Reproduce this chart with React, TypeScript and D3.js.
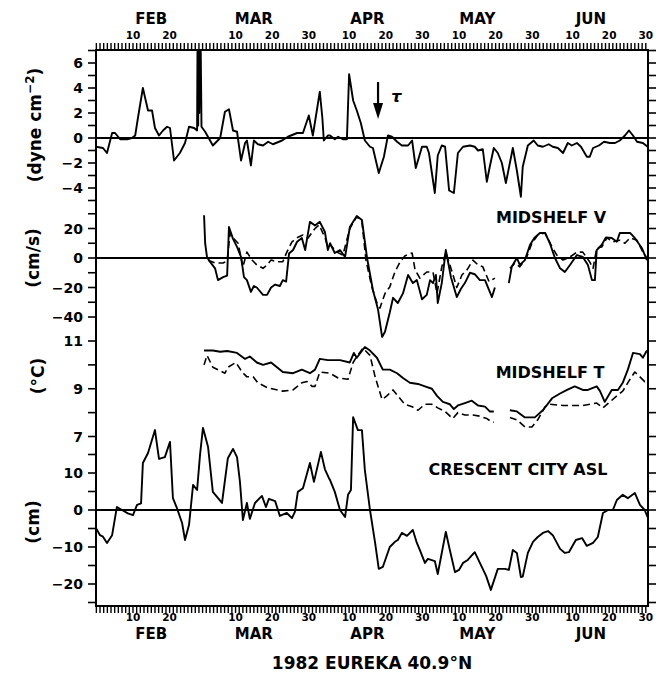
import React from 'react';
import * as d3 from 'd3';

// Time axis: days counted from 1 Feb 1982 (day 0).
const MONTHS = ['FEB', 'MAR', 'APR', 'MAY', 'JUN'];
const MONTH_START = [0, 28, 59, 89, 120];
const MONTH_LEN = [28, 31, 30, 31, 30];
const DAY_LABELS = [10, 20, 30];

// Alongshore wind stress (dyne cm^-2)
const tau: [number, number][] = [
  [-1.1, -0.7], [0.8, -0.8], [1.9, -1.2], [3.3, 0.4], [4.1, 0.4], [5.5, -0.1], [7.4, -0.1], [8.7, 0], [9.6, 0.2],
  [10.4, 1.7], [11.7, 4.0], [13.1, 2.2], [14.2, 2.2], [15.0, 0.8], [16.1, 0.2], [17.2, 0.6], [18.3, 0.9], [19.1, 0.8],
  [20.2, -1.8], [21.8, -1.2], [23.2, -0.4], [24.3, 0.9], [25.7, 0.8], [26.5, 0.6], [26.6, 6.9], [26.8, 1.0], [26.9, 6.9],
  [27.1, 2.0], [27.2, 6.9], [27.4, 3.0], [27.5, 6.9], [27.7, 0.9], [28.7, 0.5], [30.8, -0.6], [32.8, 0], [34.1, 2.1],
  [35.2, 2.3], [36.3, 0.6], [37.4, 0.5], [38.5, -1.8], [39.6, -0.4], [40.1, -0.2], [41.2, -2.2], [42.0, -0.2],
  [43.1, -0.5], [44.5, -0.6], [45.9, -0.3], [47.2, -0.5], [49.7, -0.2], [51.3, 0.1], [53.8, 0.4], [55.4, 0.4],
  [57.0, 1.8], [58.1, 0.2], [60.0, 3.7], [60.7, 1.6], [61.1, -0.2], [62.2, 0.2], [62.8, 0.2], [64.1, -0.1], [65.0, 0.1],
  [66.3, -0.1], [67.4, -0.1], [68.0, 5.1], [69.1, 3.0], [70.1, 2.2], [71.2, 1.2], [72.3, -0.2], [73.7, -0.7], [74.5, -0.8],
  [76.1, -2.8], [77.5, -1.5], [78.6, 0.2], [79.7, 0.1], [81.1, -0.3], [82.4, -0.6], [84.1, -0.6], [85.2, -0.2],
  [86.2, -2.4], [87.9, -0.7], [89.2, -0.7], [89.8, -1.2], [91.4, -4.4], [92.2, -1.4], [93.3, -0.6], [94.2, -0.7],
  [95.3, -4.2], [96.6, -4.4], [97.7, -1.2], [99.1, -0.7], [101.0, -0.6], [102.3, -0.7], [103.2, -1.0], [104.5, -0.9],
  [105.6, -3.5], [106.4, -2.3], [107.5, -0.8], [108.6, -1.2], [109.7, -2.0], [110.8, -3.6], [112.7, -0.8], [113.8, -2.6],
  [114.9, -4.7], [115.4, -2.3], [116.8, -0.6], [118.4, -0.2], [119.5, -0.6], [120.9, -0.7], [122.5, -0.5], [123.6, -0.7],
  [125.0, -0.8], [126.4, -1.2], [127.7, -0.4], [128.8, -0.6], [130.2, -0.4], [131.3, -0.7], [132.9, -1.5], [133.7, -1.5],
  [134.6, -0.8], [136.2, -0.6], [137.6, -0.3], [139.2, -0.4], [140.6, -0.4], [141.9, -0.2], [143.3, 0.2], [144.4, 0.6],
  [145.5, 0.2], [146.6, -0.3], [148.2, -0.4], [149.5, -0.7],
];

// Midshelf alongshore velocity (cm/s): upper (solid) and lower (dashed) meters, two deployments
const vUpperA: [number, number][] = [
  [28.4, 29], [28.7, 10], [29.2, 0.7], [30.0, -2.5], [31.4, -7], [32.2, -15], [33.6, -13], [34.7, -12], [35.2, 21],
  [36.3, 13], [37.4, 7.5], [38.5, 0.7], [39.3, -13], [40.1, -15], [41.2, -23], [42.0, -19], [42.8, -20], [44.5, -25],
  [45.6, -25], [46.7, -20], [47.8, -18], [49.1, -19], [49.9, -15], [50.8, -16], [51.6, 3], [52.7, 5.4], [53.8, 11],
  [55.1, 13.5], [56.0, 5.4], [57.3, 24.5], [58.7, 22], [60.0, 24.5], [61.4, 17.6], [62.2, 5.4], [62.8, 10], [64.1, 3.4],
  [65.5, 5.4], [66.9, 0.7], [68.2, 21], [70.1, 28.5], [71.5, 25.8], [72.9, 0], [74.5, -21.7], [75.9, -35], [77.0, -53.5],
  [77.8, -50], [79.1, -37], [80.0, -27], [81.3, -30.5], [82.7, -24], [84.1, -11.5], [85.4, -17], [86.5, -15], [87.9, -28],
  [89.2, -25], [90.1, -15], [90.9, -17], [91.7, -11.5], [92.2, -30.5], [93.3, -17], [94.4, 5.4], [95.8, -13],
  [97.4, -26.5], [98.5, -21], [99.6, -17], [101.0, -10], [102.3, -11], [103.7, -15], [105.1, -15], [107.0, -26.5],
  [107.8, -20],
];
const vLowerA: [number, number][] = [
  [29.5, -1.5], [31.4, -3.4], [33.6, -3.4], [34.7, -2], [35.5, 17], [36.3, 13.6], [37.7, 10], [39.0, -6], [40.1, 4],
  [41.5, -1.4], [42.8, -4.7], [44.5, -7], [45.6, -4.7], [46.7, -1.4], [48.3, -2.5], [49.9, -2.5], [51.0, 4], [52.4, 11],
  [54.0, 14], [55.4, 15.6], [56.8, 13.6], [58.7, 20], [59.8, 22.4], [61.4, 14], [62.2, 7.5], [62.8, 9], [64.7, 4],
  [66.3, 2], [68.2, 20], [70.1, 28], [71.5, 24.5], [72.6, -1.4], [74.2, -19.6], [75.6, -30.5], [76.4, -34], [77.8, -24],
  [79.1, -19.6], [80.5, -9.5], [81.9, -2.7], [83.2, 1.4], [85.2, 3.4], [86.0, -8], [87.3, -13.6], [89.2, -9.5],
  [90.9, -9.5], [92.0, -24], [93.3, -6], [94.4, 4], [95.8, -7], [97.4, -20], [98.8, -11.5], [100.2, -8], [101.8, -1.4],
  [103.2, -4.7], [104.5, -6], [106.2, -16], [107.8, -13.6],
];
const vUpperB: [number, number][] = [
  [111.6, -17], [112.4, -6], [113.8, 0], [114.6, -4.7], [116.0, -1.4], [117.4, 9], [118.7, 14], [120.1, 17], [121.5, 17],
  [122.8, 10], [124.2, 0], [125.6, -7], [126.9, -9.5], [128.3, -4.7], [130.2, 2], [131.8, 0.7], [133.2, -4.7],
  [134.3, -15], [135.1, -15], [135.6, 5.4], [137.0, 9], [138.1, 14], [139.7, 13.6], [141.1, 11], [141.9, 17], [143.3, 17],
  [144.7, 17], [146.0, 13.6], [147.9, 6.8], [149.3, -1.4],
];
const vLowerB: [number, number][] = [
  [111.9, -7], [113.3, -3.4], [114.6, -6], [116.5, 0.7], [117.9, 10], [119.5, 15.6], [121.5, 17], [123.4, 7.5],
  [124.7, 2], [126.4, -1.4], [128.3, 0.7], [130.2, 4], [131.8, 4], [133.7, -2.7], [134.6, -7], [135.6, 6.8], [137.0, 7.5],
  [138.4, 13.6], [140.0, 11], [141.9, 12], [143.3, 10], [144.7, 13.6], [146.6, 12], [148.2, 4], [149.3, 0],
];

// Midshelf temperature (°C)
const tUpperA: [number, number][] = [
  [28.4, 10.6], [30.8, 10.6], [32.8, 10.55], [34.7, 10.58], [37.4, 10.5], [39.6, 10.25], [40.9, 10.35], [42.8, 10.1],
  [44.5, 10.0], [46.7, 10.1], [48.3, 9.9], [49.9, 9.7], [52.7, 9.65], [55.1, 9.8], [57.3, 9.65], [58.7, 9.8],
  [60.0, 10.25], [62.2, 10.2], [65.5, 10.2], [68.2, 10.1], [69.3, 10.5], [70.1, 10.3], [72.3, 10.75], [73.7, 10.6],
  [75.6, 10.3], [77.2, 9.8], [79.1, 9.8], [81.1, 9.65], [82.7, 9.45], [84.6, 9.25], [86.8, 9.2], [88.7, 9.1], [90.6, 9.0],
  [92.0, 8.7], [93.6, 8.45], [95.5, 8.35], [96.6, 8.15], [97.7, 8.3], [99.6, 8.4], [101.5, 8.5], [103.2, 8.3],
  [105.1, 8.25], [106.4, 8.05], [107.5, 8.05],
];
const tLowerA: [number, number][] = [
  [28.4, 10.0], [29.2, 10.4], [30.8, 9.9], [34.1, 9.65], [34.9, 9.9], [37.1, 10.1], [38.8, 9.7], [40.1, 9.5], [41.8, 9.5],
  [43.1, 9.25], [45.6, 9.05], [49.9, 8.9], [52.7, 8.95], [55.1, 9.25], [56.5, 9.3], [57.9, 9.1], [58.7, 9.1], [60.0, 9.7],
  [62.8, 9.65], [65.0, 9.45], [67.7, 9.4], [69.1, 10.1], [70.1, 10.35], [71.8, 10.7], [73.7, 10.4], [75.1, 9.5],
  [77.0, 8.55], [78.3, 8.7], [80.0, 8.95], [81.3, 8.7], [83.2, 8.35], [85.2, 8.25], [86.8, 8.1], [88.7, 8.35],
  [90.6, 8.35], [92.2, 8.2], [94.2, 8.05], [96.3, 7.75], [97.7, 8.0], [99.6, 7.9], [101.8, 7.9], [103.7, 7.85],
  [105.6, 7.75], [107.0, 7.6], [107.5, 7.6],
];
const tUpperB: [number, number][] = [
  [111.9, 8.1], [113.8, 8.05], [116.0, 7.8], [118.7, 7.8], [120.9, 8.1], [123.4, 8.6], [125.6, 8.8], [127.5, 8.95],
  [129.6, 9.1], [131.8, 8.95], [133.2, 8.95], [135.6, 9.1], [136.5, 8.9], [137.8, 8.45], [139.7, 8.95], [141.4, 8.95],
  [142.7, 9.25], [144.1, 9.8], [145.5, 10.5], [147.4, 10.45], [148.2, 10.3], [149.3, 10.6],
];
const tLowerB: [number, number][] = [
  [111.9, 7.8], [113.8, 7.7], [116.0, 7.4], [117.9, 7.4], [119.5, 7.7], [121.5, 8.25], [122.8, 8.35], [126.4, 8.3],
  [131.8, 8.3], [135.6, 8.4], [137.3, 8.2], [139.2, 8.45], [141.1, 8.7], [142.7, 8.9], [144.7, 9.4], [146.0, 9.7],
  [147.4, 9.5], [148.7, 9.3], [149.3, 9.4],
];

// Crescent City adjusted sea level (cm)
const asl: [number, number][] = [
  [-1.1, -4.9], [0, -6.8], [0.8, -7.2], [1.9, -8.9], [3.3, -6.8], [4.6, 0.8], [6.0, 0], [7.6, -0.9], [9.0, -1.4],
  [10.1, 1.4], [11.2, 1.8], [11.7, 12.7], [13.1, 15.4], [15.0, 21.6], [16.1, 13.8], [17.7, 14.3], [19.1, 18.4],
  [19.9, 3.2], [21.0, 0.5], [22.4, -3.5], [23.2, -8.1], [24.3, -4], [25.4, 6.8], [26.5, 5.4], [27.3, 14.9], [28.1, 22.2],
  [29.5, 17], [30.8, 4.9], [33.3, 1.9], [34.9, 14], [36.3, 16.5], [37.4, 14.3], [38.2, 7.6], [39.0, -2.7], [40.1, 1.9],
  [40.9, -2.4], [42.3, 1.9], [44.2, 3.8], [45.3, 0.8], [46.1, 3], [47.8, 2.4], [49.1, -1.6], [51.0, -0.8], [52.4, -2.2],
  [53.2, -0.5], [54.0, 4.9], [55.4, 5.9], [57.3, 12.7], [58.4, 7.6], [60.3, 15.7], [61.4, 11], [62.5, 8.6], [62.8, 8.1],
  [64.1, 4.9], [65.5, 0], [66.9, -1.9], [67.7, 4.1], [68.5, 5.4], [69.1, 25.1], [70.4, 21.6], [71.5, 21.6], [72.3, 10.8],
  [73.7, 0], [75.1, -8.9], [76.1, -15.9], [77.2, -15.4], [79.1, -10], [80.5, -8.6], [81.3, -8.1], [82.4, -6.2],
  [83.8, -7], [85.4, -5.4], [86.5, -8.9], [87.3, -10.8], [88.7, -14.3], [89.5, -13.2], [91.4, -13.8], [92.2, -17.3],
  [94.4, -5.9], [95.5, -10.8], [96.9, -16.8], [98.0, -16.2], [99.1, -14.3], [100.4, -13.5], [102.3, -11.4],
  [103.7, -14.3], [105.4, -17.8], [106.7, -21.6], [108.6, -15.9], [110.5, -15.9], [111.6, -16.2], [112.7, -10.8],
  [113.8, -11.6], [114.9, -18.1], [115.4, -18.0], [116.8, -11.6], [118.2, -8.6], [119.5, -7.3], [120.9, -6.2],
  [122.3, -5.7], [123.6, -6.8], [125.6, -10.5], [126.9, -11.6], [128.0, -11.4], [129.9, -8.1], [131.6, -7.6],
  [132.9, -9.7], [134.6, -8.9], [135.9, -7.3], [137.3, -0.8], [138.7, 0], [140.0, 0], [141.1, 2.7], [142.7, 4.1],
  [144.1, 3.2], [146.0, 4.6], [147.4, 1.4], [148.7, 0], [149.5, -1.9],
];

// Y-axis ticks and labels for each panel
const tauTicks = d3.range(-5, 8, 1);
const tauLabels = [-4, -2, 0, 2, 4, 6];
const vTicks = d3.range(-40, 31, 10);
const vLabels = [-40, -20, 0, 20];
const tTicks = [7, 8, 9, 10, 11];
const tLabels = [7, 9, 11];
const aslTicks = d3.range(-25, 16, 5);
const aslLabels = [-20, -10, 0, 10];

const FONT = '"DejaVu Sans", "Liberation Sans", Arial, sans-serif';
const LEFT = 96;
const RIGHT = 648;
const TOP = 50;
const BOTTOM = 606;

const x = d3.scaleLinear().domain([-1.1, 149.6]).range([LEFT, RIGHT]);
const yTau = d3.scaleLinear().domain([-5, 7]).range([200.5, 50.5]);
const yV = d3.scaleLinear().domain([-40, 30]).range([317, 213.75]);
const yT = d3.scaleLinear().domain([7, 11]).range([436.5, 341]);
const yAsl = d3.scaleLinear().domain([-25, 20]).range([602.5, 436]);

const fmt = d3.format('d');

type Panel = {
  scale: d3.ScaleLinear<number, number>;
  ticks: number[];
  labels: number[];
};

const panels: Panel[] = [
  { scale: yTau, ticks: tauTicks, labels: tauLabels },
  { scale: yV, ticks: vTicks, labels: vLabels },
  { scale: yT, ticks: tTicks, labels: tLabels },
  { scale: yAsl, ticks: aslTicks, labels: aslLabels },
];

function pathFor(data: [number, number][], y: d3.ScaleLinear<number, number>) {
  return d3
    .line<[number, number]>()
    .x((d) => x(d[0]))
    .y((d) => y(d[1]))(data) as string;
}

export default function App() {
  const rulerDays = d3.range(-1, 150);
  const dayTicks: number[] = [];
  MONTH_START.forEach((s, i) => {
    DAY_LABELS.forEach((d) => {
      if (d <= MONTH_LEN[i]) dayTicks.push(s + d - 1);
    });
  });
  const dayLabelOf = (d: number) => {
    let i = MONTH_START.length - 1;
    while (i > 0 && d < MONTH_START[i]) i--;
    return d - MONTH_START[i] + 1;
  };
  const monthMid = MONTH_START.map((s) => s + 14);

  const lineProps = { fill: 'none', stroke: '#000', strokeWidth: 1.9, strokeLinejoin: 'round' as const };
  const dashProps = { ...lineProps, strokeWidth: 1.6, strokeDasharray: '7 4' };

  return (
    <svg
      width={660}
      height={685}
      viewBox="0 0 660 685"
      style={{ position: 'absolute', left: 0, top: 0, background: '#fff' }}
      fontFamily={FONT}
      fontWeight="bold"
    >
      <rect width={660} height={685} fill="#fff" />

      {/* frame */}
      <rect x={LEFT} y={TOP} width={RIGHT - LEFT} height={BOTTOM - TOP} fill="none" stroke="#000" strokeWidth={2} />

      {/* daily rulers along top and bottom */}
      {rulerDays.map((d) => (
        <g key={'r' + d}>
          <line x1={x(d)} x2={x(d)} y1={TOP} y2={TOP - 7} stroke="#000" strokeWidth={1.4} />
          <line x1={x(d)} x2={x(d)} y1={BOTTOM} y2={BOTTOM + 7} stroke="#000" strokeWidth={1.4} />
        </g>
      ))}

      {/* day-of-month labels */}
      {dayTicks.map((d) => (
        <g key={'dl' + d}>
          <text x={x(d)} y={39} fontSize={10.5} textAnchor="middle">{dayLabelOf(d)}</text>
          <text x={x(d)} y={621} fontSize={10.5} textAnchor="middle">{dayLabelOf(d)}</text>
        </g>
      ))}

      {/* month labels */}
      {MONTHS.map((m, i) => (
        <g key={m}>
          <text x={x(monthMid[i])} y={24} fontSize={15} textAnchor="middle">{m}</text>
          <text x={x(monthMid[i])} y={639} fontSize={15} textAnchor="middle">{m}</text>
        </g>
      ))}

      {/* y ticks, both sides */}
      {panels.map((p, pi) => (
        <g key={'p' + pi}>
          {p.ticks.map((t) => (
            <g key={t}>
              <line x1={LEFT - 8} x2={LEFT} y1={p.scale(t)} y2={p.scale(t)} stroke="#000" strokeWidth={1.6} />
              <line x1={RIGHT} x2={RIGHT + 8} y1={p.scale(t)} y2={p.scale(t)} stroke="#000" strokeWidth={1.6} />
            </g>
          ))}
          {p.labels.map((t) => (
            <text key={'l' + t} x={LEFT - 13} y={p.scale(t)} dy="0.36em" fontSize={14} textAnchor="end">
              {fmt(t)}
            </text>
          ))}
        </g>
      ))}

      {/* zero lines */}
      <line x1={LEFT} x2={RIGHT} y1={yTau(0)} y2={yTau(0)} stroke="#000" strokeWidth={1.8} />
      <line x1={LEFT} x2={RIGHT} y1={yV(0)} y2={yV(0)} stroke="#000" strokeWidth={1.8} />
      <line x1={LEFT} x2={RIGHT} y1={yAsl(0)} y2={yAsl(0)} stroke="#000" strokeWidth={1.8} />

      {/* series */}
      <path d={pathFor(tau, yTau)} {...lineProps} />
      <path d={pathFor(vUpperA, yV)} {...lineProps} />
      <path d={pathFor(vUpperB, yV)} {...lineProps} />
      <path d={pathFor(vLowerA, yV)} {...dashProps} />
      <path d={pathFor(vLowerB, yV)} {...dashProps} />
      <path d={pathFor(tUpperA, yT)} {...lineProps} />
      <path d={pathFor(tUpperB, yT)} {...lineProps} />
      <path d={pathFor(tLowerA, yT)} {...dashProps} />
      <path d={pathFor(tLowerB, yT)} {...dashProps} />
      <path d={pathFor(asl, yAsl)} {...lineProps} />

      {/* wind stress arrow */}
      <line x1={x(75.9)} x2={x(75.9)} y1={82} y2={106} stroke="#000" strokeWidth={2.2} />
      <path d={`M${x(75.9) - 5},103 L${x(75.9) + 5},103 L${x(75.9)},119 Z`} fill="#000" />
      <text x={x(79.5)} y={102} fontSize={16} fontStyle="italic">τ</text>

      {/* panel titles */}
      <text x={551} y={223} fontSize={16} textAnchor="middle">MIDSHELF V</text>
      <text x={550} y={378} fontSize={16} textAnchor="middle">MIDSHELF T</text>
      <text x={518} y={475} fontSize={16} textAnchor="middle">CRESCENT CITY ASL</text>

      {/* units */}
      <text transform="translate(41,125) rotate(-90)" fontSize={17} textAnchor="middle">
        (dyne cm<tspan dy={-7} fontSize={12}>−2</tspan><tspan dy={7}>)</tspan>
      </text>
      <text transform="translate(39,258) rotate(-90)" fontSize={17} textAnchor="middle">(cm/s)</text>
      <text transform="translate(44,376) rotate(-90)" fontSize={17} textAnchor="middle">(°C)</text>
      <text transform="translate(39,522) rotate(-90)" fontSize={17} textAnchor="middle">(cm)</text>

      {/* title */}
      <text x={372} y={669} fontSize={17} textAnchor="middle">1982 EUREKA 40.9°N</text>
    </svg>
  );
}
